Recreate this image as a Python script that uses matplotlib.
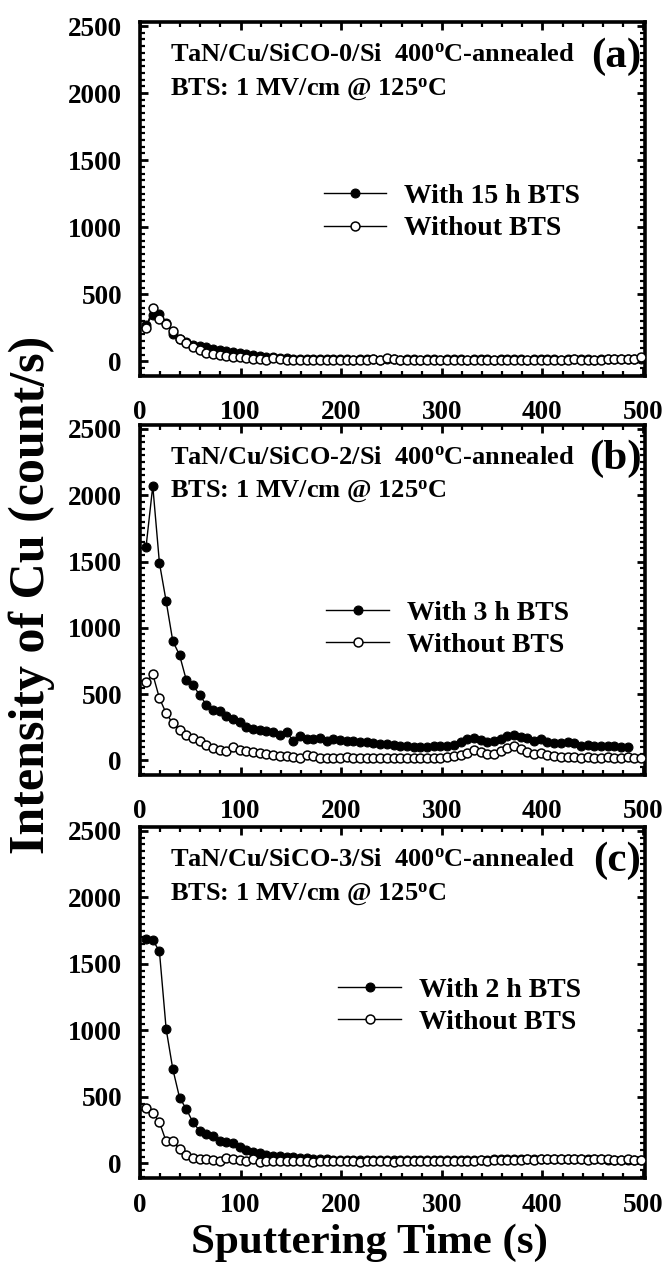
import matplotlib
matplotlib.use('Agg')
import matplotlib.pyplot as plt
from matplotlib.ticker import MultipleLocator

plt.rcParams['font.family'] = ['Liberation Serif', 'DejaVu Serif']
plt.rcParams['font.weight'] = 'bold'
plt.rcParams['mathtext.fontset'] = 'custom'
plt.rcParams['mathtext.rm'] = 'Liberation Serif:bold'
plt.rcParams['mathtext.bf'] = 'Liberation Serif:bold'
plt.rcParams['mathtext.it'] = 'Liberation Serif:bold:italic'

# ---------------- data ----------------
time_s = [6.0, 12.7, 19.3, 26.0, 32.6, 39.3, 45.9, 52.6, 59.2, 65.9,
          72.5, 79.2, 85.8, 92.5, 99.1, 105.8, 112.4, 119.1, 125.7, 132.4,
          139.0, 145.7, 152.3, 159.0, 165.6, 172.3, 178.9, 185.6, 192.2, 198.9,
          205.5, 212.2, 218.8, 225.5, 232.1, 238.8, 245.4, 252.1, 258.7, 265.4,
          272.0, 278.7, 285.3, 292.0, 298.6, 305.3, 311.9, 318.6, 325.2, 331.9,
          338.5, 345.2, 351.8, 358.5, 365.1, 371.8, 378.4, 385.1, 391.7, 398.4,
          405.0, 411.7, 418.3, 425.0, 431.6, 438.3, 444.9, 451.6, 458.2, 464.9,
          471.5, 478.2, 484.8, 491.5, 498.1]

a_with = [270, 345, 352, 285, 205, 165, 140, 122, 115, 108,
          95, 85, 75, 68, 60, 52, 45, 38, 32, 28,
          25, 22, 20, 18, 16, 15, 15, 14, 14, 14,
          14, 13, 14, 15, 14, 13, 14, 14, 13, 14,
          14, 13, 14, 14, 13, 14, 14, 14, 13, 14,
          14, 14, 13, 14, 14, 14, 14, 13, 14, 14,
          14, 14, 13, 14, 14, 14, 14, 13, 14, 14,
          14, 14, 15, 15, 16]
a_without = [250, 395, 318, 275, 225, 168, 138, 108, 82, 62,
             52, 45, 38, 33, 28, 25, 20, 15, 10, 25,
             15, 12, 10, 12, 10, 10, 12, 10, 10, 12,
             10, 12, 10, 12, 15, 12, 25, 15, 12, 12,
             10, 12, 12, 10, 12, 12, 10, 12, 12, 12,
             10, 12, 12, 12, 12, 10, 12, 12, 12, 10,
             12, 12, 12, 12, 15, 12, 12, 12, 12, 15,
             15, 15, 18, 20, 28]

b_with = [1610, 2070, 1490, 1200, 900, 795, 610, 568, 495, 420,
          380, 372, 335, 312, 290, 255, 240, 226, 224, 212,
          190, 212, 150, 185, 162, 160, 172, 150, 160, 155,
          150, 145, 140, 136, 130, 126, 122, 118, 111, 105,
          104, 102, 100, 106, 111, 112, 118, 136, 160, 172,
          155, 140, 145, 165, 185, 195, 178, 168, 150, 160,
          136, 128, 134, 140, 130, 112, 118, 112, 110, 112,
          106, 104, 104]
b_without = [593, 650, 470, 355, 280, 230, 195, 170, 150, 120,
             95, 75, 68, 100, 80, 68, 60, 55, 52, 42,
             35, 32, 28, 22, 38, 32, 22, 15, 20, 22,
             25, 22, 18, 20, 22, 20, 18, 15, 18, 20,
             15, 18, 20, 18, 22, 25, 30, 40, 55, 80,
             62, 50, 52, 70, 95, 110, 88, 65, 48, 55,
             38, 32, 28, 25, 25, 22, 25, 22, 20, 25,
             22, 20, 25, 15, 15]

c_with = [1690, 1680, 1595, 1010, 710, 495, 410, 310, 245, 220,
          205, 165, 160, 150, 120, 100, 85, 75, 65, 55,
          58, 48, 45, 40, 38, 35, 32, 30, 28, 28,
          26, 26, 25, 25, 24, 24, 24, 23, 23, 23,
          23, 23, 24, 24, 24, 25, 25, 26, 26, 27,
          28, 28, 30, 30, 32, 32, 34, 34, 35, 36,
          36, 36, 35, 35, 34, 33, 32, 30, 30, 28,
          28, 26, 26, 25, 25]
c_without = [420, 380, 310, 165, 170, 105, 65, 40, 35, 35,
             28, 15, 40, 35, 28, 20, 35, 10, 15, 15,
             18, 15, 15, 18, 15, 12, 15, 18, 15, 15,
             18, 15, 12, 15, 18, 15, 15, 12, 15, 15,
             15, 18, 15, 15, 18, 18, 15, 18, 20, 18,
             22, 20, 25, 22, 25, 28, 25, 30, 28, 32,
             30, 32, 35, 30, 35, 32, 28, 32, 30, 35,
             28, 25, 30, 22, 25]

panel_tags = ['(a)', '(b)', '(c)']
sample_names = ['TaN/Cu/SiCO-0/Si', 'TaN/Cu/SiCO-2/Si', 'TaN/Cu/SiCO-3/Si']
bts_labels = ['With 15 h BTS', 'With 3 h BTS', 'With 2 h BTS']
with_series = [a_with, b_with, c_with]
without_series = [a_without, b_without, c_without]
x_ticks = [0, 100, 200, 300, 400, 500]
y_ticks = [0, 500, 1000, 1500, 2000, 2500]

# ---------------- figure ----------------
W, H = 669, 1280
fig = plt.figure(figsize=(W / 100, H / 100), dpi=100)

# axes boxes in pixels: (left, top, right, bottom)
boxes = [(140, 22, 645, 376), (140, 425, 645, 775), (140, 827, 645, 1178)]
legend_anchor = [(0.364, 0.462), (0.369, 0.417), (0.393, 0.49)]
xpads = [17, 17, 11]

for k, (l, t, r, b) in enumerate(boxes):
    ax = fig.add_axes([l / W, 1 - b / H, (r - l) / W, (b - t) / H])
    n_with = len(with_series[k])
    ax.plot(time_s[:n_with], with_series[k], '-', color='black', lw=1.0,
            marker='o', ms=6.4, mfc='black', mec='black', mew=0.8,
            label=bts_labels[k], zorder=3)
    ax.plot(time_s, without_series[k], '-', color='black', lw=1.0,
            marker='o', ms=6.4, mfc='white', mec='black', mew=1.1,
            label='Without BTS', zorder=4)
    ax.set_xlim(0, 502)
    ax.set_ylim(-110, 2530)
    ax.set_xticks(x_ticks)
    ax.set_yticks(y_ticks)
    ax.xaxis.set_minor_locator(MultipleLocator(20))
    ax.yaxis.set_minor_locator(MultipleLocator(50))
    ax.tick_params(which='both', direction='in', top=True, right=True)
    ax.tick_params(which='major', length=6, width=2.0, labelsize=19.5)
    ax.tick_params(which='minor', length=3.5, width=1.6)
    ax.tick_params(axis='x', which='major', pad=xpads[k])
    ax.tick_params(axis='y', which='major', pad=13)
    for sp in ax.spines.values():
        sp.set_linewidth(2.6)

    ax.text(0.059, 0.908,
            sample_names[k] + r'  400$^{\mathrm{o}}$C-annealed',
            transform=ax.transAxes, fontsize=19, fontweight='bold',
            ha='left', va='center')
    ax.text(0.059, 0.808, r'BTS: 1 MV/cm @ 125$^{\mathrm{o}}$C',
            transform=ax.transAxes, fontsize=19, fontweight='bold',
            ha='left', va='center')
    ax.text(0.993, 0.903, panel_tags[k], transform=ax.transAxes,
            fontsize=31, fontweight='bold', ha='right', va='center')

    ax.legend(loc='center left', bbox_to_anchor=legend_anchor[k],
              frameon=False, fontsize=20, handlelength=2.25,
              handletextpad=0.65, labelspacing=0.25, borderpad=0,
              borderaxespad=0, numpoints=1)

fig.text(32 / W, 1 - 595 / H, 'Intensity of Cu (count/s)', rotation=90,
         fontsize=36, fontweight='bold', ha='center', va='center')
fig.text(369 / W, 1 - 1243 / H, 'Sputtering Time (s)',
         fontsize=31, fontweight='bold', ha='center', va='center')

fig.savefig('out.png', dpi=100)
